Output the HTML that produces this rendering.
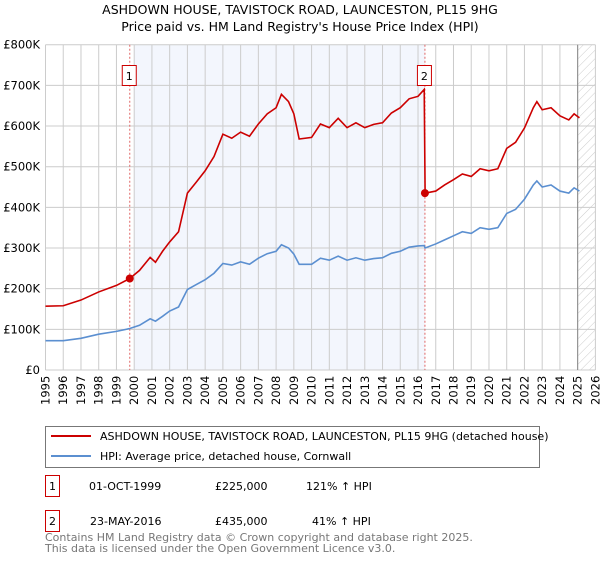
<!DOCTYPE html>
<html><head><meta charset="utf-8"><style>
body{margin:0;background:#fff;font-family:"Liberation Sans","DejaVu Sans",sans-serif;}
svg text{font-family:"DejaVu Sans","Liberation Sans",sans-serif;}
</style></head><body>
<svg id="c" width="600" height="560" xmlns="http://www.w3.org/2000/svg">
<defs><pattern id="hatch" width="6" height="6" patternUnits="userSpaceOnUse" patternTransform="rotate(45)"><line x1="0" y1="0" x2="0" y2="6" stroke="#ccc" stroke-width="1"/></pattern></defs>
<text x="300" y="14" text-anchor="middle" font-size="12.5">ASHDOWN HOUSE, TAVISTOCK ROAD, LAUNCESTON, PL15 9HG</text>
<text x="300" y="31" text-anchor="middle" font-size="12.5">Price paid vs. HM Land Registry's House Price Index (HPI)</text>
<g id="plot"></g>
<g>
<rect x="45.5" y="426.5" width="494" height="41" fill="#fff" stroke="#777"/>
<line x1="51" y1="436" x2="91" y2="436" stroke="#cc0000" stroke-width="2"/>
<text x="100" y="440" font-size="11">ASHDOWN HOUSE, TAVISTOCK ROAD, LAUNCESTON, PL15 9HG (detached house)</text>
<line x1="51" y1="456" x2="91" y2="456" stroke="#5b8fd0" stroke-width="2"/>
<text x="100" y="460" font-size="11">HPI: Average price, detached house, Cornwall</text>
</g>
<g font-size="11">
<rect x="45.5" y="475.5" width="14" height="21" fill="#fff" stroke="#c00"/><text x="52.5" y="490" text-anchor="middle">1</text>
<text x="89" y="490">01-OCT-1999</text><text x="215" y="490">£225,000</text><text x="306" y="490">121% ↑ HPI</text>
<rect x="45.5" y="510.5" width="14" height="21" fill="#fff" stroke="#c00"/><text x="52.5" y="525" text-anchor="middle">2</text>
<text x="90" y="525">23-MAY-2016</text><text x="215" y="525">£435,000</text><text x="312" y="525">41% ↑ HPI</text>
</g>
<text x="45" y="541" font-size="11" fill="#777">Contains HM Land Registry data © Crown copyright and database right 2025.</text>
<text x="45" y="552" font-size="11" fill="#777">This data is licensed under the Open Government Licence v3.0.</text>
</svg>
<script>
const hpiYears=[1995,1996,1997,1998,1999,1999.75,2000.3,2000.9,2001.2,2001.6,2002,2002.5,2003,2003.5,2004,2004.5,2005,2005.5,2006,2006.5,2007,2007.5,2008,2008.3,2008.7,2009,2009.3,2010,2010.5,2011,2011.5,2012,2012.5,2013,2013.5,2014,2014.5,2015,2015.5,2016,2016.35,2016.4,2017,2017.5,2018,2018.5,2019,2019.5,2020,2020.5,2021,2021.5,2022,2022.5,2022.7,2023,2023.5,2024,2024.5,2024.8,2025.1];
const hpiValues=[72,72,78,88,95,102,110,126,120,132,145,155,198,210,222,238,262,258,266,260,275,286,292,308,300,285,260,260,275,270,280,270,276,270,274,276,287,292,302,305,306,300,310,320,330,340,336,350,346,350,385,395,420,455,465,450,455,440,435,448,440];
const priceYears=[1995,1996,1997,1998,1999,1999.75,2000.3,2000.9,2001.2,2001.6,2002,2002.5,2003,2003.5,2004,2004.5,2005,2005.5,2006,2006.5,2007,2007.5,2008,2008.3,2008.7,2009,2009.3,2010,2010.5,2011,2011.5,2012,2012.5,2013,2013.5,2014,2014.5,2015,2015.5,2016,2016.35,2016.4,2017,2017.5,2018,2018.5,2019,2019.5,2020,2020.5,2021,2021.5,2022,2022.5,2022.7,2023,2023.5,2024,2024.5,2024.8,2025.1];
const priceValues=[157,158,172,192,208,225,245,277,265,292,315,340,435,462,490,525,580,570,585,575,605,630,645,678,660,630,568,572,605,596,619,596,608,596,604,608,632,645,667,673,690,435,440,455,468,482,476,495,490,495,545,560,595,645,660,640,645,625,615,630,620];
const yTicks=[0,100,200,300,400,500,600,700,800];
const yTickLabels=["£0","£100K","£200K","£300K","£400K","£500K","£600K","£700K","£800K"];
const xTicks=[1995,1996,1997,1998,1999,2000,2001,2002,2003,2004,2005,2006,2007,2008,2009,2010,2011,2012,2013,2014,2015,2016,2017,2018,2019,2020,2021,2022,2023,2024,2025,2026];
const saleYears=[1999.75,2016.39];
const salePrices=[225,435];
const saleLabels=["1","2"];
const X0=45.5,X1=595.4,Y0=370,Y1=44.7;
const x=v=>X0+(v-1995)/31*(X1-X0);
const y=v=>Y0-v/800*(Y0-Y1);
const NS="http://www.w3.org/2000/svg";
const g=document.getElementById('plot');
function mk(t,a){const e=document.createElementNS(NS,t);for(const k in a)e.setAttribute(k,a[k]);g.appendChild(e);return e;}
let r=mk('rect',{x:x(2000),y:Y1,width:x(2016.39)-x(2000),height:Y0-Y1,fill:'#f3f6fd'});


let h=mk('rect',{x:x(2025),y:Y1,width:X1-x(2025),height:Y0-Y1,fill:'url(#hatch)'});


xTicks.forEach(t=>{const l=mk('line',{x1:x(t),x2:x(t),y1:Y1,y2:Y0,stroke:'#ccc'});


const tx=mk('text',{x:0,y:0,'font-size':'11.5',transform:`translate(${x(t)+4},405) rotate(-90)`});tx.textContent=t;

});
yTicks.forEach((t,i)=>{const l=mk('line',{x1:X0,x2:X1,y1:y(t),y2:y(t),stroke:'#ccc'});


const tx=mk('text',{x:40,y:y(t)+4,'font-size':'11.5','text-anchor':'end'});tx.textContent=yTickLabels[i];

});
let vl=mk('line',{x1:x(2025),x2:x(2025),y1:Y1,y2:Y0,stroke:'#888'});


saleYears.forEach((s,i)=>{const l=mk('line',{x1:x(s),x2:x(s),y1:Y1,y2:Y0,stroke:'#e06666','stroke-dasharray':'2,2'});


const b=mk('rect',{x:x(s)-7.5,y:65.5,width:14,height:20,fill:'#fff',stroke:'#c00'});


const t=mk('text',{x:x(s)-0.5,y:80,'font-size':'11','text-anchor':'middle'});t.textContent=saleLabels[i];

});
function line(xs,vs,c,n){const p=mk('polyline',{points:xs.map((v,i)=>x(v)+','+y(vs[i])).join(' '),fill:'none',stroke:c,'stroke-width':1.6});

}
line(hpiYears,hpiValues,'#5b8fd0','hpi-line');
line(priceYears,priceValues,'#cc0000','property-price-line');
saleYears.forEach((s,i)=>{const c=mk('circle',{cx:x(s),cy:y(salePrices[i]),r:4,fill:'#cc0000'});

});
</script>
</body></html>
